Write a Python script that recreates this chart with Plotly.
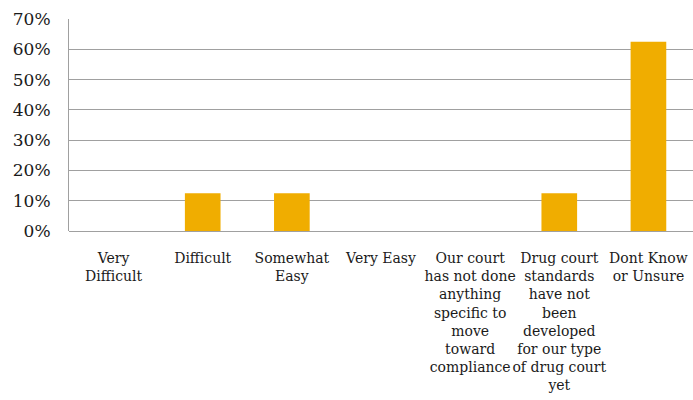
import plotly.graph_objects as go

categories = [
    "Very<br>Difficult",
    "Difficult",
    "Somewhat<br>Easy",
    "Very Easy",
    "Our court<br>has not done<br>anything<br>specific to<br>move<br>toward<br>compliance",
    "Drug court<br>standards<br>have not<br>been<br>developed<br>for our type<br>of drug court<br>yet",
    "Dont Know<br>or Unsure",
]
values = [0.0, 0.125, 0.125, 0.0, 0.0, 0.125, 0.625]
y_ticks = [0, 0.1, 0.2, 0.3, 0.4, 0.5, 0.6, 0.7]

fig = go.Figure(go.Bar(x=categories, y=values, marker=dict(color="#F0AD00", line=dict(width=0)), width=0.4))

font = dict(family="DejaVu Serif", size=15, color="#1a1a1a")
fig.update_layout(
    width=693, height=400,
    margin=dict(l=69, r=0, t=19, b=169),
    paper_bgcolor="white", plot_bgcolor="white",
    font=font, showlegend=False, bargap=0.6,
)
fig.update_xaxes(
    automargin=False,
    showline=False, showgrid=False, ticks="", tickangle=0, tickfont=dict(family="DejaVu Serif", size=14),
    ticklabelstandoff=17,
)
fig.update_yaxes(
    automargin=False,
    range=[0, 0.7], tickvals=y_ticks, tickformat=".0%",
    showgrid=True, gridcolor="#A0A0A0", gridwidth=1,
    showline=True, linecolor="#A0A0A0", linewidth=1,
    zeroline=True, zerolinecolor="#A0A0A0", zerolinewidth=1,
    ticks="", tickfont=dict(family="DejaVu Serif", size=17), ticklabelstandoff=14,
)
fig.write_html("out.html", config={"displayModeBar": False}, post_script="document.body.style.margin='0';")
